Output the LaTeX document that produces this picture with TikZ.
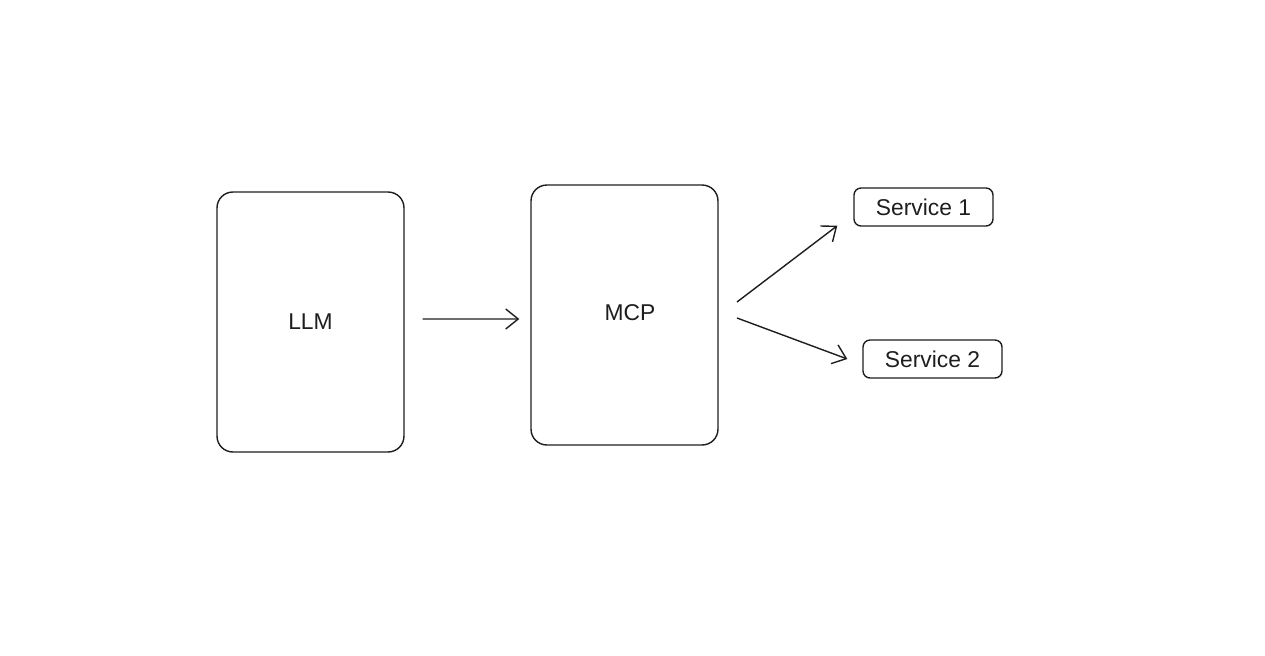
\documentclass[tikz,border=0pt]{standalone}
\usepackage{fontspec}
\setmainfont{Liberation Sans}
\usetikzlibrary{arrows.meta}
\definecolor{ink}{HTML}{1E1E1E}

\begin{document}
\begin{tikzpicture}[x=0.02cm,y=-0.02cm,
  block/.style={draw=ink,line width=0.8pt,rounded corners=9pt,minimum width=3.74cm,minimum height=5.2cm,font=\fontsize{13}{15}\selectfont,text=ink},
  service/.style={draw=ink,line width=0.8pt,rounded corners=4pt,minimum width=2.78cm,minimum height=0.76cm,font=\fontsize{13}{15}\selectfont,text=ink},
  arr/.style={draw=ink,line width=0.8pt,-{Straight Barb[length=2.5mm,width=4mm]}}]
\useasboundingbox (0,0) rectangle (1265,656);
\node[block] (llm) at (310.5,322) {LLM};
\node[block] (mcp) at (624.5,315) {};
\node[text=ink,font=\fontsize{13}{15}\selectfont] (mcptxt) at (630,313) {MCP};
\node[service] (s1) at (923.5,207) {Service 1};
\node[service] (s2) at (932.5,359) {Service 2};
\coordinate (m1) at (737,302);
\coordinate (m2) at (737,318);
\draw[arr] ([xshift=0.36cm,yshift=0.06cm]llm.east) -- ([xshift=-0.22cm,yshift=-0.08cm]mcp.west);
\draw[arr] (m1) -- ([xshift=-0.32cm,yshift=0.02cm]s1.south west);
\draw[arr] (m2) -- ([xshift=-0.3cm]s2.west);
\end{tikzpicture}
\end{document}
